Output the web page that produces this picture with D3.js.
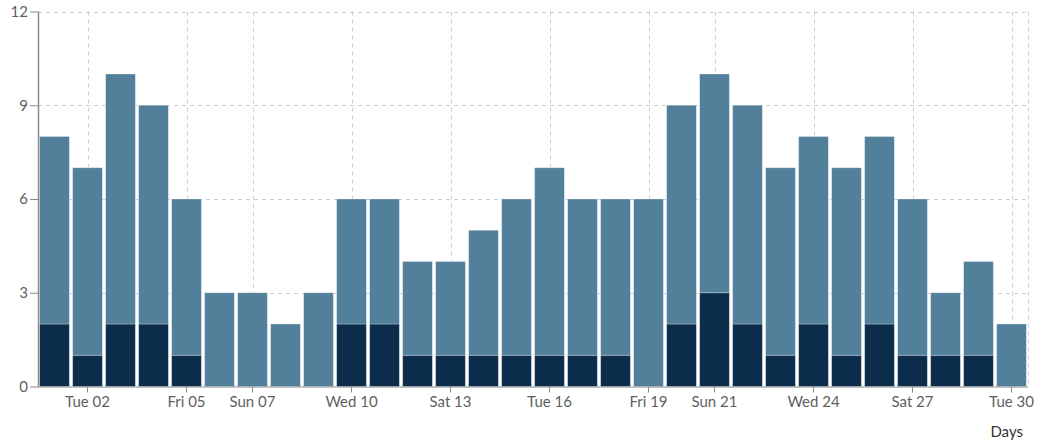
<!DOCTYPE html>
<html><head><meta charset="utf-8">
<script src="https://cdn.jsdelivr.net/npm/d3@7"></script>
<style>body{margin:0;background:#fff}svg{display:block;font-family:Lato,sans-serif}</style>
</head><body><svg id="c" width="1041" height="444"></svg>
<script>
const days = d3.range(1, 31).map(d => new Date(2020, 5, d));
const darkValues  = [2,1,2,2,1,0,0,0,0,2,2,1,1,1,1,1,1,1,0,2,3,2,1,2,1,2,1,1,1,0];
const lightValues = [6,6,8,7,5,3,3,2,3,4,4,3,3,4,5,6,5,5,6,7,7,7,6,6,6,6,5,2,3,2];
const tickDays = [2,5,7,10,13,16,19,21,24,27,30];
const yTicks = [0,3,6,9,12];
const seriesKeys = ["dark","light"];
const colors = {dark:"#0b2d4b", light:"#52809b"};

const svg = d3.select("#c");
const m = {l:38, r:1028, t:11.5, b:386.5};
const x = d3.scaleBand().domain(days.map(d=>+d)).range([m.l, m.r]).paddingInner(0.1).paddingOuter(0.05);
const y = d3.scaleLinear().domain([0,12]).range([m.b, m.t]);
const xc = d => x(+d) + x.bandwidth()/2;

const table = days.map((d,i)=>({date:d, dark:darkValues[i], light:lightValues[i]}));
const stack = d3.stack().keys(seriesKeys)(table);

// grid
const g = svg.append("g");
g.selectAll("line.h").data(yTicks.slice(1)).join("line")
  .attr("x1", m.l).attr("x2", m.r+1).attr("y1", d=>Math.round(y(d))+0.5).attr("y2", d=>Math.round(y(d))+0.5)
  .attr("stroke","#cfcfcf").attr("stroke-dasharray","4,4");
const vt = tickDays.map(d=>new Date(2020,5,d)).concat([null]);
g.selectAll("line.v").data(vt).join("line")
  .attr("x1", d=> d? Math.round(xc(d))+0.5 : m.r+0.5).attr("x2", d=> d? Math.round(xc(d))+0.5 : m.r+0.5)
  .attr("y1", m.t).attr("y2", m.b)
  .attr("stroke","#cfcfcf").attr("stroke-dasharray","4,4");

// bars
svg.append("g").selectAll("g").data(stack).join("g")
  .attr("fill", s=>colors[s.key])
  .selectAll("rect").data(s=>s.filter(p=>p[1]>p[0])).join("rect")
  .attr("x", p=>x(+p.data.date)).attr("width", x.bandwidth())
  .attr("y", p=>y(p[1])).attr("height", p=>y(p[0])-y(p[1]))
  .attr("stroke","rgba(255,255,255,0.35)").attr("stroke-width",0.8);

// axes
const yAxis = d3.axisLeft(y).tickValues(yTicks).tickSize(8).tickPadding(2);
const ya = svg.append("g").attr("transform",`translate(${m.l},0)`).call(yAxis);
ya.select(".domain").attr("stroke","#8a8a8a").attr("stroke-width",1.5).attr("d",`M0.5,${m.t}V${m.b}`);
ya.selectAll(".tick line").attr("stroke","#8a8a8a");
ya.selectAll("text").attr("fill","#5f5f5f").style("font-size","15px").style("font-family","Lato");

const xAxis = d3.axisBottom(x).tickValues(tickDays.map(d=>+new Date(2020,5,d)))
  .tickFormat(d=>d3.timeFormat("%a %d")(new Date(d))).tickSize(6).tickPadding(4);
const xa = svg.append("g").attr("transform",`translate(0,${m.b})`).call(xAxis);
xa.select(".domain").attr("stroke","#8a8a8a").attr("d",`M${m.l},0.5H${m.r}`);
xa.selectAll(".tick line").attr("stroke","#8a8a8a");
xa.selectAll("text").attr("fill","#5f5f5f").style("font-size","15px").style("font-family","Lato");

svg.append("text").attr("x",1023).attr("y",437).attr("text-anchor","end")
  .attr("fill","#333").style("font-size","15px").text("Days");
</script></body></html>
